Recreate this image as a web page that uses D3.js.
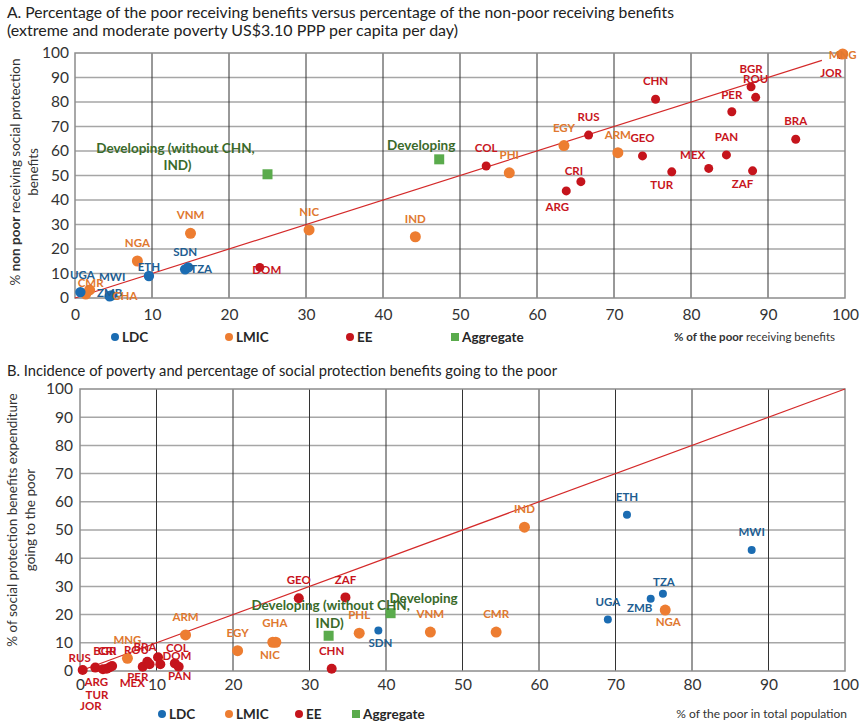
<!DOCTYPE html>
<html><head><meta charset="utf-8">
<script src="https://cdn.jsdelivr.net/npm/d3@7"></script>
<style>
  body { margin: 0; background: #fff; }
  svg text { font-family: Lato, "Open Sans", sans-serif; }
</style>
</head><body>
<svg id="chart" width="861" height="724"></svg>
<script>
// ---------- Panel A: % of the poor vs % of the non-poor receiving benefits ----------
const ldcCodesA   = ["UGA", "MWI", "ZMB", "ETH", "SDN", "TZA"];
const ldcPoorA    = [0.7, 4.7, 4.5, 9.6, 14.3, 14.7];
const ldcNonPoorA = [2.4, 1.0, 0.7, 9.0, 11.7, 12.5];

const lmicCodesA   = ["GHA", "CMR", "NGA", "VNM", "NIC", "IND", "PHI", "EGY", "ARM", "MNG"];
const lmicPoorA    = [1.4, 1.9, 8.1, 15.0, 30.4, 44.2, 56.4, 63.5, 70.5, 99.7];
const lmicNonPoorA = [1.6, 3.3, 15.1, 26.4, 27.8, 25.0, 51.1, 62.2, 59.3, 99.6];

const eeCodesA   = ["DOM", "COL", "ARG", "CRI", "RUS", "GEO", "CHN", "TUR", "MEX", "PAN", "PER", "ZAF", "BGR", "ROU", "BRA", "JOR"];
const eePoorA    = [24.0, 53.4, 63.8, 65.7, 66.7, 73.7, 75.4, 77.5, 82.3, 84.6, 85.3, 88.0, 87.8, 88.4, 93.6, 99.5];
const eeNonPoorA = [12.5, 53.9, 43.7, 47.5, 66.5, 58.0, 81.1, 51.5, 52.9, 58.4, 76.0, 51.9, 86.2, 81.9, 64.8, 99.3];

const aggNamesA   = ["Developing (without CHN, IND)", "Developing"];
const aggPoorA    = [25.0, 47.3];
const aggNonPoorA = [50.5, 56.6];

// ---------- Panel B: poverty incidence vs share of benefits going to the poor ----------
const ldcCodesB   = ["SDN", "UGA", "ETH", "ZMB", "TZA", "MWI"];
const ldcPovB     = [39.0, 69.0, 71.5, 74.6, 76.2, 87.8];
const ldcShareB   = [14.4, 18.3, 55.4, 25.6, 27.4, 42.9];

const lmicCodesB  = ["MNG", "ARM", "EGY", "GHA", "NIC", "PHL", "VNM", "CMR", "IND", "NGA"];
const lmicPovB    = [6.2, 13.8, 20.6, 25.2, 25.6, 36.5, 45.8, 54.4, 58.1, 76.5];
const lmicShareB  = [4.5, 12.8, 7.2, 10.2, 10.2, 13.4, 13.8, 13.8, 51.0, 21.6];

const eeCodesB    = ["RUS", "ARG", "TUR", "JOR", "BGR", "CRI", "PER", "MEX", "ROU", "BRA", "COL", "DOM", "PAN", "GEO", "CHN", "ZAF"];
const eePovB      = [0.35, 2.0, 3.0, 3.5, 3.9, 4.2, 8.2, 8.8, 9.1, 10.2, 10.5, 12.4, 12.9, 28.6, 32.9, 34.7];
const eeShareB    = [0.35, 1.2, 0.6, 0.8, 1.3, 1.8, 1.5, 3.3, 2.4, 4.9, 2.4, 2.7, 1.5, 25.8, 0.8, 26.1];

const aggNamesB   = ["Developing (without CHN, IND)", "Developing"];
const aggPovB     = [32.5, 40.6];
const aggShareB   = [12.5, 20.5];

const axisTicks = [0, 10, 20, 30, 40, 50, 60, 70, 80, 90, 100];
const groupNames = ["LDC", "LMIC", "EE", "Aggregate"];

// ---------- styling ----------
const dotColor   = { LDC: "#1b6cb2", LMIC: "#ed7d31", EE: "#c5141c", Aggregate: "#5aab4c" };
const labelColor = { LDC: "#215d91", LMIC: "#e0782f", EE: "#c8151d", Aggregate: "#3a6a2a" };

// label offsets (px) from the marker centre to the label centre
const nudgeA = {
  UGA: [2, -17], CMR: [1, -7], GHA: [39, 2], MWI: [1, -19], ZMB: [0, -3], ETH: [0, -9],
  SDN: [0, -17], TZA: [13, 1], DOM: [7, 2], CRI: [-7, -11], ARG: [-9, 16], TUR: [-10, 13],
  MEX: [-16, -14], ZAF: [-10, 13], PER: [0, -17], MNG: [0, 1], JOR: [-10, 18]
};
const nudgeB = {
  TZA: [1, -12], ZMB: [-11, 9], NGA: [3, 12], NIC: [-6, 13], GHA: [2, -19], SDN: [2, 12],
  RUS: [-3, -12], ARG: [1, 14], TUR: [-6, 26], JOR: [-16, 37], BGR: [-5, -16], CRI: [-5, -15],
  PER: [-5, 10], MEX: [-15, 21], ROU: [-13, -14], BRA: [-13, -10], COL: [17, -16],
  DOM: [2, -8], PAN: [1, 9]
};
const aggLabelA = {
  "Developing (without CHN, IND)": { lines: ["Developing (without CHN,", "IND)"], pos: [[-92, -26], [-90, -9]] },
  "Developing": { lines: ["Developing"], pos: [[-18, -14]] }
};
const aggLabelB = {
  "Developing (without CHN, IND)": { lines: ["Developing (without CHN,", "IND)"], pos: [[2, -31], [1, -13]] },
  "Developing": { lines: ["Developing"], pos: [[33, -15]] }
};

function rows(group, names, xs, ys) {
  return names.map((n, i) => ({ group, code: n, x: xs[i], y: ys[i] }));
}

const svg = d3.select("#chart");

// titles
function title(txt, yPos, width) {
  svg.append("text").attr("x", 7).attr("y", yPos).attr("font-size", 15).attr("fill", "#222")
    .attr("textLength", width).attr("lengthAdjust", "spacingAndGlyphs").text(txt);
}
title("A. Percentage of the poor receiving benefits versus percentage of the non-poor receiving benefits", 18, 667);
title("(extreme and moderate poverty US$3.10 PPP per capita per day)", 36, 451);
title("B. Incidence of poverty and percentage of social protection benefits going to the poor", 376, 550);

function drawPanel(cfg) {
  const x = d3.scaleLinear().domain([0, 100]).range([cfg.left, cfg.right]);
  const y = d3.scaleLinear().domain([0, 100]).range([cfg.bottom, cfg.top]);
  const g = svg.append("g");

  // horizontal grid
  g.append("g").selectAll("line").data(axisTicks.slice(1, -1)).join("line")
    .attr("x1", cfg.left).attr("x2", cfg.right)
    .attr("y1", d => y(d)).attr("y2", d => y(d))
    .attr("stroke", "#a6a6a6").attr("stroke-width", 1.5);
  // vertical grid
  g.append("g").selectAll("line").data(axisTicks.slice(1, -1)).join("line")
    .attr("y1", cfg.top).attr("y2", cfg.bottom)
    .attr("x1", d => x(d)).attr("x2", d => x(d))
    .attr("stroke", "#333").attr("stroke-width", 1);
  // frame
  g.append("rect").attr("x", cfg.left).attr("y", cfg.top)
    .attr("width", cfg.right - cfg.left).attr("height", cfg.bottom - cfg.top)
    .attr("fill", "none").attr("stroke", "#8c8c8c").attr("stroke-width", 1.5);

  // axes tick labels
  const xAxis = d3.axisBottom(x).tickValues(axisTicks).tickSize(0).tickPadding(cfg.xPad);
  const ax = g.append("g").attr("transform", `translate(0,${cfg.bottom})`).call(xAxis);
  ax.select(".domain").remove();
  ax.selectAll("text").attr("font-size", 15.5).attr("fill", "#333").attr("font-family", "Lato");
  const yAxis = d3.axisLeft(y).tickValues(axisTicks).tickSize(0).tickPadding(cfg.yPad);
  const ay = g.append("g").attr("transform", `translate(${cfg.left},0)`).call(yAxis);
  ay.select(".domain").remove();
  ay.selectAll("text").attr("font-size", 15.5).attr("fill", "#333").attr("font-family", "Lato");

  // 45-degree reference line
  g.append("line")
    .attr("x1", x(0)).attr("y1", y(0)).attr("x2", x(cfg.diagEnd)).attr("y2", y(cfg.diagEnd))
    .attr("stroke", "#d42a2a").attr("stroke-width", 1.2);

  // markers: EE, LMIC, LDC then aggregates on top
  const order = ["EE", "LMIC", "LDC"];
  order.forEach(grp => {
    g.append("g").selectAll("circle").data(cfg.data.filter(d => d.group === grp)).join("circle")
      .attr("cx", d => x(d.x)).attr("cy", d => y(d.y)).attr("r", cfg.radius[grp])
      .attr("fill", dotColor[grp]);
  });
  const agg = cfg.data.filter(d => d.group === "Aggregate");
  g.append("g").selectAll("rect").data(agg).join("rect")
    .attr("x", d => x(d.x) - 5).attr("y", d => y(d.y) - 5).attr("width", 10).attr("height", 10)
    .attr("fill", dotColor.Aggregate);

  // country labels
  g.append("g").selectAll("text").data(cfg.data.filter(d => d.group !== "Aggregate")).join("text")
    .attr("x", d => x(d.x) + (cfg.nudge[d.code] || [0, -18])[0])
    .attr("y", d => y(d.y) + (cfg.nudge[d.code] || [0, -18])[1])
    .attr("dy", "0.36em").attr("text-anchor", "middle")
    .attr("font-size", 11.5).attr("font-weight", 700)
    .attr("fill", d => labelColor[d.group]).text(d => d.code);

  // aggregate labels
  agg.forEach(d => {
    const lab = cfg.aggLabel[d.code];
    lab.lines.forEach((t, i) => {
      g.append("text").attr("x", x(d.x) + lab.pos[i][0]).attr("y", y(d.y) + lab.pos[i][1])
        .attr("dy", "0.36em").attr("text-anchor", "middle")
        .attr("font-size", 13.5).attr("font-weight", 700).attr("fill", labelColor.Aggregate).text(t);
    });
  });

  // y-axis title
  const yt = g.append("text").attr("transform", `translate(${cfg.yTitleX[0]},${cfg.yTitleY}) rotate(-90)`)
    .attr("text-anchor", "middle").attr("font-size", 13.5).attr("fill", "#333");
  cfg.yTitle1.forEach(([t, b]) => yt.append("tspan").attr("font-weight", b ? 700 : 400).text(t));
  g.append("text").attr("transform", `translate(${cfg.yTitleX[1]},${cfg.yTitleY}) rotate(-90)`)
    .attr("text-anchor", "middle").attr("font-size", 13.5).attr("fill", "#333").text(cfg.yTitle2);

  // legend
  const lg = g.append("g");
  groupNames.forEach((name, i) => {
    const lx = cfg.legendX[i];
    if (name === "Aggregate") {
      lg.append("rect").attr("x", lx - 4).attr("y", cfg.legendY - 4).attr("width", 8).attr("height", 8)
        .attr("fill", dotColor[name]);
    } else {
      lg.append("circle").attr("cx", lx).attr("cy", cfg.legendY).attr("r", 4).attr("fill", dotColor[name]);
    }
    lg.append("text").attr("x", lx + 7).attr("y", cfg.legendY).attr("dy", "0.36em")
      .attr("font-size", 13.5).attr("font-weight", 700).attr("fill", "#262626").text(name);
  });

  // x-axis title
  const xt = g.append("text").attr("x", cfg.xTitleX).attr("y", cfg.legendY).attr("dy", "0.36em")
    .attr("text-anchor", "end").attr("font-size", cfg.xTitleSize).attr("fill", "#333");
  cfg.xTitle.forEach(([t, b]) => xt.append("tspan").attr("font-weight", b ? 700 : 400).text(t));
}

drawPanel({
  left: 75, right: 845, top: 53, bottom: 298, xPad: 11, yPad: 6, diagEnd: 97,
  data: [].concat(
    rows("LDC", ldcCodesA, ldcPoorA, ldcNonPoorA),
    rows("LMIC", lmicCodesA, lmicPoorA, lmicNonPoorA),
    rows("EE", eeCodesA, eePoorA, eeNonPoorA),
    rows("Aggregate", aggNamesA, aggPoorA, aggNonPoorA)),
  radius: { LDC: 5.2, LMIC: 5.5, EE: 4.5 },
  nudge: nudgeA, aggLabel: aggLabelA,
  yTitle1: [["% ", false], ["non poor", true], [" receiving social protection", false]],
  yTitle2: "benefits", yTitleX: [20, 38], yTitleY: 172,
  legendX: [115, 229, 350, 455], legendY: 337,
  xTitle: [["% of the poor", true], [" receiving benefits", false]], xTitleX: 835, xTitleSize: 11.5
});

drawPanel({
  left: 80, right: 845, top: 389, bottom: 671, xPad: 8, yPad: 7, diagEnd: 100,
  data: [].concat(
    rows("LDC", ldcCodesB, ldcPovB, ldcShareB),
    rows("LMIC", lmicCodesB, lmicPovB, lmicShareB),
    rows("EE", eeCodesB, eePovB, eeShareB),
    rows("Aggregate", aggNamesB, aggPovB, aggShareB)),
  radius: { LDC: 4, LMIC: 5.5, EE: 5 },
  nudge: nudgeB, aggLabel: aggLabelB,
  yTitle1: [["% of social protection benefits expenditure", false]],
  yTitle2: "going to the poor", yTitleX: [17, 35], yTitleY: 520,
  legendX: [162, 229, 299, 356], legendY: 714,
  xTitle: [["% of the poor in total population", false]], xTitleX: 847, xTitleSize: 12
});
</script>
</body></html>
